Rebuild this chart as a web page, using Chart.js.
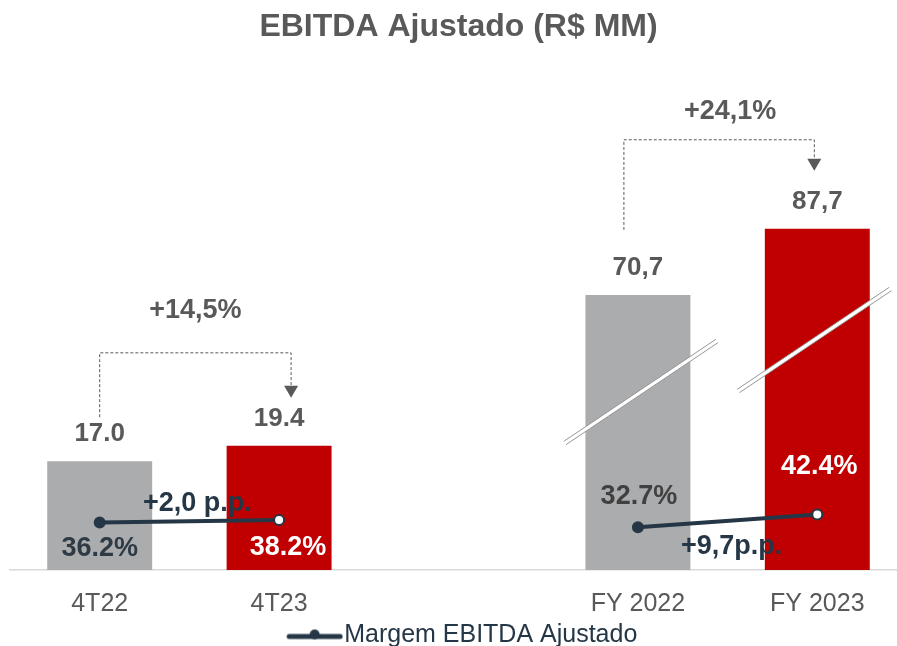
<!DOCTYPE html>
<html>
<head>
<meta charset="utf-8">
<title>EBITDA Ajustado</title>
<script src="https://cdn.jsdelivr.net/npm/chart.js@4.4.0/dist/chart.umd.min.js"></script>
<style>
    html, body { margin: 0; padding: 0; background: #fff; overflow: hidden; }
    /* the plot runs a little past the right edge of the window, as in the original */
    #wrap { width: 907px; height: 646px; position: relative; }
</style>
</head>
<body>
<div id="wrap"><canvas id="chart"></canvas></div>
<script>
    var categories = ['4T22', '4T23', '', 'FY 2022', 'FY 2023'];
    var ebitda = [17.0, 19.4, null, 70.7, 87.7];
    var ebitda_labels = ['17.0', '19.4', '', '70,7', '87,7'];
    var margem = [36.2, 38.2, null, 32.7, 42.4];
    var margem_labels = ['36.2%', '38.2%', '', '32.7%', '42.4%'];
    var growth_labels = ['+14,5%', '+24,1%'];
    var pp_labels = ['+2,0 p.p.', '+9,7p.p.'];

    var FONT = '"Liberation Sans", Arial, sans-serif';
    var GRAY_TEXT = '#595959';
    var NAVY = '#253746';
    var GRAY_BAR = '#ABACAE';
    var RED_BAR = '#C00000';

    // quarters and full years are drawn on their own (broken) scales
    var quarter_values = ebitda.map(function (v, i) { return i < 2 ? v : null; });
    var year_values = ebitda.map(function (v, i) { return i > 2 ? v : null; });
    var bar_colors = [GRAY_BAR, RED_BAR, GRAY_BAR, GRAY_BAR, RED_BAR];

    // legend icon: line with a dot (left part kept empty to nudge it right)
    var legend_icon = document.createElement('canvas');
    legend_icon.width = 75;
    legend_icon.height = 14;
    (function () {
        var c = legend_icon.getContext('2d');
        c.strokeStyle = NAVY;
        c.lineWidth = 5;
        c.lineCap = 'round';
        c.beginPath();
        c.moveTo(21, 8);
        c.lineTo(72, 8);
        c.stroke();
        c.fillStyle = NAVY;
        c.beginPath();
        c.arc(46.5, 6, 5, 0, Math.PI * 2);
        c.fill();
    })();

    var margem_label_style = [
        { dx: 0, dy: 26, color: '#2E3B45' },
        { dx: 9, dy: 28, color: '#FFFFFF' },
        null,
        { dx: 1, dy: -31, color: '#404040' },
        { dx: 2, dy: -48, color: '#FFFFFF' }
    ];
    var pp_label_style = [
        { from: 0, to: 1, dx: 8, dy: -18 },
        { from: 3, to: 4, dx: 4, dy: 26 }
    ];
    // offsets relative to the bar tops
    var bracket_style = [
        { from: 0, to: 1, dxL: 0, dxR: 12, dyL: -44, dyTip: -48, dyH: -93, labelDx: 0, dyLabel: -135 },
        { from: 3, to: 4, dxL: -14, dxR: -3, dyL: -65, dyTip: -58, dyH: -89, labelDx: 11, dyLabel: -117 }
    ];
    // axis break marks on the full year bars, offset from the bar base
    var break_style = [
        { index: 3, dx: 3, dy: -178 },
        { index: 4, dx: -3, dy: -230 }
    ];

    function getBar(chart, i) {
        var meta = chart.getDatasetMeta(i < 2 ? 1 : 2);
        return meta.data[i];
    }

    var annotations = {
        id: 'annotations',
        afterDatasetsDraw: function (chart) {
            var ctx = chart.ctx;
            var lineMeta = chart.getDatasetMeta(0);
            ctx.save();
            ctx.textAlign = 'center';
            ctx.textBaseline = 'middle';

            // axis break marks
            break_style.forEach(function (b) {
                var bar = getBar(chart, b.index);
                var cx = bar.x + b.dx;
                var cy = bar.base + b.dy;
                var hx = 76, hy = 51;
                var len = Math.sqrt(hx * hx + hy * hy);
                var nx = hy / len * 2, ny = hx / len * 2;
                ctx.lineWidth = 4;
                ctx.strokeStyle = '#FFFFFF';
                ctx.beginPath();
                ctx.moveTo(cx - hx, cy + hy);
                ctx.lineTo(cx + hx, cy - hy);
                ctx.stroke();
                ctx.lineWidth = 1;
                ctx.strokeStyle = 'rgba(140,140,140,0.9)';
                [-1, 1].forEach(function (s) {
                    ctx.beginPath();
                    ctx.moveTo(cx - hx + s * nx, cy + hy + s * ny);
                    ctx.lineTo(cx + hx + s * nx, cy - hy + s * ny);
                    ctx.stroke();
                });
            });

            // values above bars
            ctx.font = 'bold 26px ' + FONT;
            ctx.fillStyle = GRAY_TEXT;
            for (var i = 0; i < categories.length; i++) {
                if (ebitda[i] === null) continue;
                var bar = getBar(chart, i);
                ctx.fillText(ebitda_labels[i], bar.x, bar.y - 27);
            }

            // margin labels
            ctx.font = 'bold 27px ' + FONT;
            for (var j = 0; j < margem.length; j++) {
                var st = margem_label_style[j];
                if (margem[j] === null || !st) continue;
                var pt = lineMeta.data[j];
                ctx.fillStyle = st.color;
                ctx.fillText(margem_labels[j], pt.x + st.dx, pt.y + st.dy);
            }

            // p.p. change labels
            ctx.fillStyle = NAVY;
            pp_label_style.forEach(function (p, k) {
                var a = lineMeta.data[p.from], b = lineMeta.data[p.to];
                ctx.fillText(pp_labels[k], (a.x + b.x) / 2 + p.dx, (a.y + b.y) / 2 + p.dy);
            });

            // growth brackets
            bracket_style.forEach(function (s, k) {
                var left = getBar(chart, s.from), right = getBar(chart, s.to);
                var xl = left.x + s.dxL, xr = right.x + s.dxR;
                var yl = left.y + s.dyL, yh = right.y + s.dyH, tip = right.y + s.dyTip;
                ctx.strokeStyle = GRAY_TEXT;
                ctx.lineWidth = 1;
                ctx.setLineDash([3, 2]);
                ctx.beginPath();
                ctx.moveTo(xl, yl);
                ctx.lineTo(xl, yh);
                ctx.lineTo(xr, yh);
                ctx.lineTo(xr, tip - 12);
                ctx.stroke();
                ctx.setLineDash([]);
                ctx.fillStyle = GRAY_TEXT;
                ctx.beginPath();
                ctx.moveTo(xr - 7, tip - 12);
                ctx.lineTo(xr + 7, tip - 12);
                ctx.lineTo(xr, tip);
                ctx.closePath();
                ctx.fill();
                ctx.font = 'bold 27px ' + FONT;
                ctx.fillText(growth_labels[k], (xl + xr) / 2 + s.labelDx, right.y + s.dyLabel);
            });

            ctx.restore();
        }
    };

    var ctx = document.getElementById('chart').getContext('2d');
    var chart = new Chart(ctx, {
        type: 'bar',
        data: {
            labels: categories,
            datasets: [
                {
                    type: 'line',
                    label: 'Margem EBITDA Ajustado',
                    data: margem,
                    yAxisID: 'y3',
                    borderColor: NAVY,
                    borderWidth: 4,
                    pointRadius: 5,
                    pointBorderWidth: 2,
                    pointBackgroundColor: [NAVY, '#FFFFFF', NAVY, NAVY, '#FFFFFF'],
                    pointBorderColor: NAVY,
                    spanGaps: false,
                    order: 0
                },
                {
                    label: 'EBITDA trimestre',
                    data: quarter_values,
                    yAxisID: 'y',
                    backgroundColor: bar_colors,
                    grouped: false,
                    categoryPercentage: 1,
                    barPercentage: 0.585,
                    order: 1
                },
                {
                    label: 'EBITDA ano',
                    data: year_values,
                    yAxisID: 'y2',
                    backgroundColor: bar_colors,
                    grouped: false,
                    categoryPercentage: 1,
                    barPercentage: 0.585,
                    order: 1
                }
            ]
        },
        options: {
            responsive: true,
            maintainAspectRatio: false,
            animation: false,
            layout: { autoPadding: false, padding: { left: 10, right: 0, top: 0, bottom: -12 } },
            scales: {
                x: {
                    offset: true,
                    grid: { display: false },
                    border: { display: true, color: '#D9D9D9', width: 1.5 },
                    ticks: { color: GRAY_TEXT, font: { family: FONT, size: 25 }, padding: 11 },
                    afterFit: function (scale) {
                        scale.height = 44;
                        scale.paddingLeft = 0;
                        scale.paddingRight = 0;
                    }
                },
                y: { display: false, min: 0, max: 80.25 },
                y2: { display: false, min: 0, max: 132 },
                y3: { display: false, min: 0, max: 392 }
            },
            plugins: {
                title: {
                    display: true,
                    text: 'EBITDA Ajustado (R$ MM)',
                    color: GRAY_TEXT,
                    font: { family: FONT, size: 32, weight: 'bold' },
                    padding: { top: 8, bottom: 10 }
                },
                legend: {
                    position: 'bottom',
                    labels: {
                        filter: function (item) { return item.datasetIndex === 0; },
                        usePointStyle: true,
                        pointStyle: legend_icon,
                        pointStyleWidth: 52,
                        color: NAVY,
                        font: { family: FONT, size: 25 },
                        padding: 9
                    }
                },
                tooltip: { enabled: false }
            }
        },
        plugins: [annotations]
    });
</script>
</body>
</html>
